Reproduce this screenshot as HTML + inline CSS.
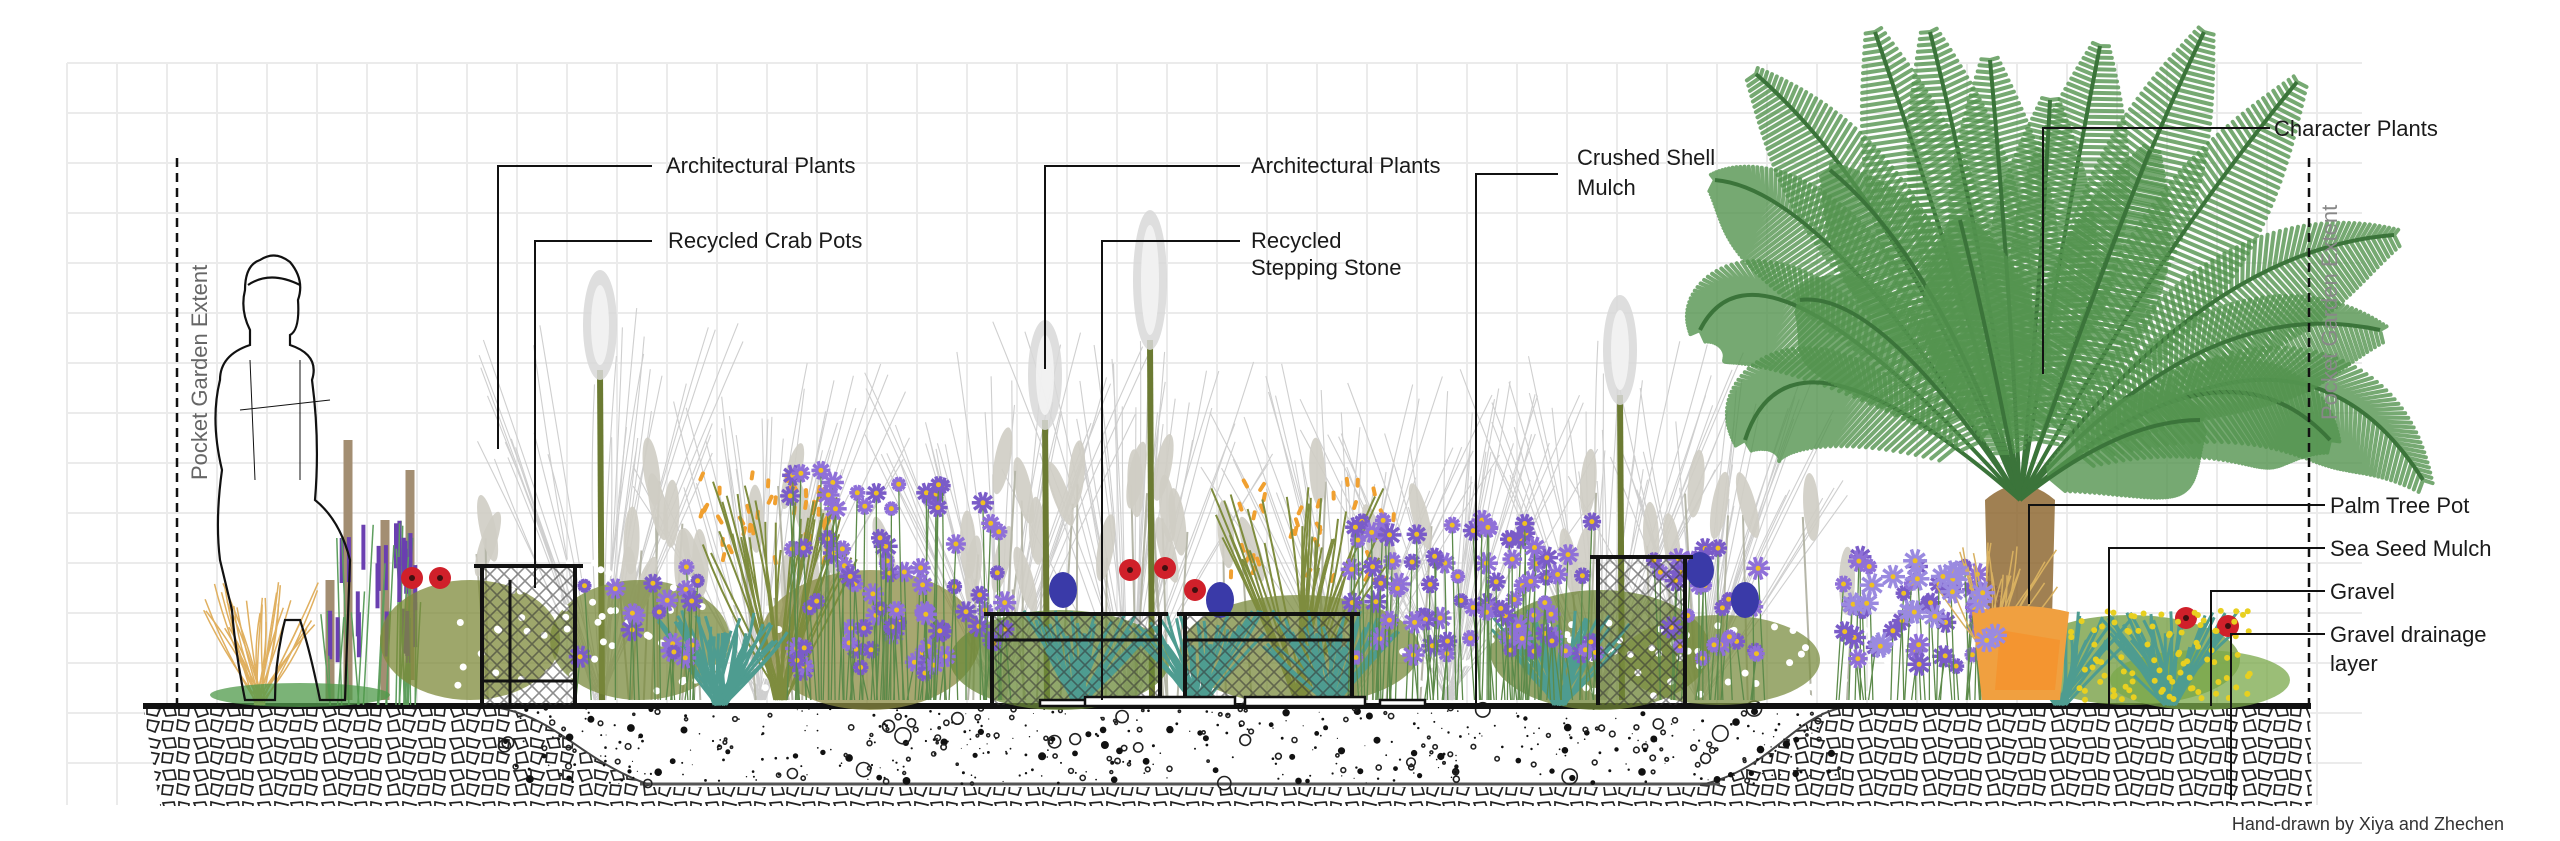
<!DOCTYPE html>
<html><head><meta charset="utf-8">
<style>
html,body{margin:0;padding:0;background:#fff;}
body{width:2560px;height:841px;overflow:hidden;position:relative;font-family:"Liberation Sans Narrow","Liberation Sans",sans-serif;}
svg{position:absolute;left:0;top:0;}
.lbl{font-family:"Liberation Sans Narrow","Liberation Sans",sans-serif;font-size:22px;fill:#1a1a1a;}
</style></head>
<body>
<svg id="s" width="2560" height="841" viewBox="0 0 2560 841" xmlns="http://www.w3.org/2000/svg">
<defs>
<pattern id="grav" width="64" height="32" patternUnits="userSpaceOnUse">
<rect width="64" height="32" fill="#fff"/>
<path d="M2 3 l11 -1 l3 8 l-10 3 z M19 2 l13 3 l-3 7 l-10 -2 z M35 3 l11 -1 l2 9 l-10 1 z M51 2 l10 2 l-1 8 l-9 -1 z M4 18 l9 -2 l3 10 l-11 1 z M20 16 l11 2 l-4 10 l-8 -3 z M35 17 l10 1 l-2 9 l-9 -1 z M50 16 l11 3 l-3 8 l-9 -2 z" fill="none" stroke="#222" stroke-width="1.7"/>
</pattern>
<pattern id="lat" width="14" height="14" patternUnits="userSpaceOnUse">
<path d="M0 0 L14 14 M14 0 L0 14" stroke="#333" stroke-width="1.6" opacity="0.7"/>
</pattern>
</defs>
<g id="grid" stroke="#ebebeb" stroke-width="2"></g>
<g id="soil"></g>
<g id="plants"></g>
<g id="over"></g>
<g id="lines" stroke="#111" stroke-width="2" fill="none"></g>
<g id="labels">
<text class="lbl" x="666" y="173">Architectural Plants</text>
<text class="lbl" x="668" y="248">Recycled Crab Pots</text>
<text class="lbl" x="1251" y="173">Architectural Plants</text>
<text class="lbl" x="1251" y="248">Recycled</text>
<text class="lbl" x="1251" y="275">Stepping Stone</text>
<text class="lbl" x="1577" y="165">Crushed Shell</text>
<text class="lbl" x="1577" y="195">Mulch</text>
<text class="lbl" x="2274" y="136">Character Plants</text>
<text class="lbl" x="2330" y="513">Palm Tree Pot</text>
<text class="lbl" x="2330" y="556">Sea Seed Mulch</text>
<text class="lbl" x="2330" y="599">Gravel</text>
<text class="lbl" x="2330" y="642">Gravel drainage</text>
<text class="lbl" x="2330" y="671">layer</text>
<text x="2504" y="830" text-anchor="end" style="font-family:'Liberation Sans Narrow','Liberation Sans',sans-serif;font-size:18px;fill:#333">Hand-drawn by Xiya and Zhechen</text>
<text transform="translate(207,480) rotate(-90)" style="font-family:'Liberation Sans',sans-serif;font-size:22px;fill:#666">Pocket Garden Extent</text>
<text transform="translate(2337,420) rotate(-90)" style="font-family:'Liberation Sans',sans-serif;font-size:22px;fill:#888">Pocket Garden Extent</text>
</g>
</svg>
<script>
(function(){
var seed=12345;function r(){seed=(seed*16807)%2147483647;return (seed-1)/2147483646;}
function R(a,b){return a+(b-a)*r();}
function f(v){return (+v).toFixed(1);}
function add(g,h){document.getElementById(g).insertAdjacentHTML('beforeend',h);}
var h='';
for(var x=67;x<=2362;x+=50)h+='<line x1="'+x+'" y1="63" x2="'+x+'" y2="805"/>';
for(var y=63;y<=805;y+=50)h+='<line x1="67" y1="'+y+'" x2="2362" y2="'+y+'"/>';
add('grid',h);
h='';
h+='<path d="M143 706 L2310 706 L2312 805 L160 805 Z" fill="#fff"/>';
h+='<path d="M143 706 L500 706 C560 720 580 760 650 785 L650 805 L160 805 Z" fill="url(#grav)"/>';
h+='<path d="M1840 706 L2310 706 L2312 805 L1700 805 L1700 785 C1770 770 1790 720 1840 706 Z" fill="url(#grav)"/>';
h+='<rect x="160" y="787" width="2150" height="19" fill="url(#grav)"/>';
h+='<line x1="640" y1="784" x2="1720" y2="784" stroke="#555" stroke-width="3"/>';
h+='<path d="M500 708 C560 720 580 760 650 785" stroke="#444" stroke-width="2" fill="none"/>';
h+='<path d="M1840 708 C1790 720 1770 770 1700 785" stroke="#444" stroke-width="2" fill="none"/>';
for(var i=0;i<550;i++){var x=R(500,1840),y=R(708,784);var s=r()<0.8?R(1,3):R(4,8);
 if(r()<0.75)h+='<circle cx="'+f(x)+'" cy="'+f(y)+'" r="'+f(s/2)+'" fill="#111"/>';
 else h+='<circle cx="'+f(x)+'" cy="'+f(y)+'" r="'+f(s)+'" fill="none" stroke="#222" stroke-width="1.6"/>';}
h+='<rect x="143" y="703" width="2168" height="6" fill="#111"/>';
add('soil',h);
h='';
function grass(x,base,top,col,n,spread,w){var s='';for(var i=0;i<n;i++){var tx=x+R(-spread,spread),ty=top+R(0,(base-top)*0.4);
 s+='<path d="M'+f(x+R(-6,6))+' '+base+' Q'+f((x+tx)/2+R(-10,10))+' '+f((base+ty)/2)+' '+f(tx)+' '+f(ty)+'" stroke="'+col+'" stroke-width="'+w+'" fill="none"/>';}return s;}
function plume(x,y,len,w,col){return '<ellipse cx="'+x+'" cy="'+(y+len/2)+'" rx="'+w+'" ry="'+len/2+'" fill="'+col+'" opacity="0.85"/>';}
var fg=[[600,700,300],[1000,700,330],[1130,700,320],[1350,700,360],[1600,700,340],[1700,700,380],[760,700,360],[1450,700,380]];
fg.forEach(function(g){h+=grass(g[0],g[1],g[2],'#cfcfcf',35,150,1.1);});
for(var i=0;i<55;i++){var x=R(450,1850);if(x>1480&&x<1560)continue;var y=R(430,560);h+='<path d="M'+f(x)+' 700 L'+f(x+R(-15,15))+' '+f(y+40)+'" stroke="#b5b6a8" stroke-width="2"/>'+'<ellipse transform="rotate('+f(R(-20,20))+' '+f(x)+' '+f(y+30)+')" cx="'+f(x)+'" cy="'+f(y+30)+'" rx="8" ry="34" fill="#cfcdc4" opacity="0.9"/>';}
[[600,270,110],[1150,210,140],[1045,320,110],[1620,295,110]].forEach(function(p){
 h+='<line x1="'+p[0]+'" y1="'+(p[1]+p[2]-10)+'" x2="'+(p[0]+2)+'" y2="700" stroke="#6b7a32" stroke-width="6"/>';
 h+=plume(p[0],p[1],p[2],17,'#d8d8d8');h+=plume(p[0],p[1]+15,p[2]-30,9,'#f4f4f4');});
[[348,440,700],[410,470,680],[385,520,700],[330,580,700]].forEach(function(s){h+='<line x1="'+s[0]+'" y1="'+s[1]+'" x2="'+s[0]+'" y2="'+s[2]+'" stroke="#a38e72" stroke-width="9"/>';});
h+=grass(260,705,580,'#e0b060',30,60,1.5);
for(var i=0;i<25;i++){var x=R(330,420),y=R(520,620);h+='<line x1="'+f(x)+'" y1="705" x2="'+f(x+R(-10,10))+'" y2="'+f(y)+'" stroke="#5e9e5e" stroke-width="1.5"/><line x1="'+f(x)+'" y1="'+f(y)+'" x2="'+f(x)+'" y2="'+f(y+45)+'" stroke="#6a3fb0" stroke-width="4"/>';}
var masses=[[470,640,90,60,'#7d8a3a'],[640,640,90,60,'#7a8a3c'],[870,640,110,70,'#8a8a40'],[1060,660,110,50,'#6c8a3a'],[1300,650,120,55,'#7a8a3c'],[1600,650,110,60,'#6f8437'],[1720,660,100,45,'#7b8d42'],[2130,660,110,45,'#6f9a3a'],[2200,680,90,30,'#7aa84a'],[300,695,90,12,'#4f9a4a']];
masses.forEach(function(m){h+='<ellipse cx="'+m[0]+'" cy="'+m[1]+'" rx="'+m[2]+'" ry="'+m[3]+'" fill="'+m[4]+'" opacity="0.75"/>';});
for(var i=0;i<140;i++){var x=R(440,780),y=R(560,700);if(r()<0.5){x=R(1400,1900);y=R(620,700);}h+='<circle cx="'+f(x)+'" cy="'+f(y)+'" r="3.5" fill="#fff"/>';}
for(var i=0;i<80;i++){var x,y;if(r()<0.5){x=R(700,830);y=R(470,560);}else{x=R(1230,1400);y=R(475,580);}h+='<path d="M'+f(x)+' '+f(y)+' l'+f(R(-4,4))+' 6" stroke="#f0a030" stroke-width="4" stroke-linecap="round"/>';}
h+=grass(780,700,470,'#7e8c3e',35,80,2);
h+=grass(1300,700,480,'#7e8c3e',35,90,2);
[[720,705],[1080,705],[1200,705],[1330,705],[1560,705],[2060,705],[2170,705]].forEach(function(t){h+=grass(t[0],t[1],610,'#4e9c90',35,70,3);});
function aster(x,y,rad,col){var s='';for(var k=0;k<10;k++){var a=k*Math.PI/5;s+='<line x1="'+f(x)+'" y1="'+f(y)+'" x2="'+f(x+Math.cos(a)*rad)+'" y2="'+f(y+Math.sin(a)*rad)+'" stroke="'+col+'" stroke-width="3.5"/>';}return s+'<circle cx="'+f(x)+'" cy="'+f(y)+'" r="2.5" fill="#f0c020"/>';}
var zones=[[790,1010,470,680,80],[1350,1600,520,660,80],[1650,1760,540,660,25],[1840,2000,555,670,40],[570,700,560,660,18]];
zones.forEach(function(z){for(var i=0;i<z[4];i++){var x=R(z[0],z[1]),y=R(z[2],z[3]);h+='<line x1="'+f(x)+'" y1="'+f(y)+'" x2="'+f(x+R(-8,8))+'" y2="700" stroke="#5c8a4a" stroke-width="1.3"/>';h+=aster(x,y,R(7,12),r()<0.5?'#7a5cc8':'#8f70d8');}});
[[1063,590],[1220,600],[1700,570],[1745,600]].forEach(function(b){h+='<ellipse cx="'+b[0]+'" cy="'+b[1]+'" rx="14" ry="18" fill="#3a3aa8"/>';});
[[412,578],[440,578],[1130,570],[1165,568],[1195,590],[2186,618],[2228,626]].forEach(function(p){h+='<circle cx="'+p[0]+'" cy="'+p[1]+'" r="11" fill="#d0202a"/><circle cx="'+p[0]+'" cy="'+p[1]+'" r="3" fill="#401010"/>';});
for(var i=0;i<90;i++){var x=R(2070,2250),y=R(610,700);h+='<circle cx="'+f(x)+'" cy="'+f(y)+'" r="3" fill="#e8d020"/>';}
h+='<path d="M1990 700 L1985 500 Q2020 470 2055 500 L2050 700 Z" fill="#8f6a34" opacity="0.85"/>';
h+=grass(1990,660,540,'#d8b060',25,70,1.5);
var bx=2020,by=500;
var fr=[[1875,32,1950,250],[1930,32,1985,250],[2100,46,2060,250],[2204,32,2110,230],[2297,82,2150,260],[1756,74,1900,200],[1715,180,1830,190],[1700,330,1760,210],[1745,440,1790,300],[2394,235,2200,250],[2423,480,2290,270],[2330,440,2220,320],[2380,330,2200,290],[2050,100,2040,300],[1830,170,1940,260],[2150,150,2090,300],[1990,60,2010,280],[1800,300,1880,290],[1960,220,1990,340],[2200,420,2120,420]];
fr.forEach(function(q){var tx=q[0],ty=q[1],cx=q[2],cy=q[3];var s='';
 for(var i=0;i<=60;i++){var t=0.15+0.85*i/60;var mt=1-t;
  var px=mt*mt*bx+2*mt*t*cx+t*t*tx,py=mt*mt*by+2*mt*t*cy+t*t*ty;
  var dx=2*mt*(cx-bx)+2*t*(tx-cx),dy=2*mt*(cy-by)+2*t*(ty-cy);var L=Math.sqrt(dx*dx+dy*dy);dx/=L;dy/=L;
  var nx=-dy,ny=dx;var len=(55*Math.sin(Math.PI*Math.min(1,(t-0.1)*1.1))+8);
  for(var sg=-1;sg<=1;sg+=2){var ex=px+(dx*0.5+nx*sg*0.85)*len,ey=py+(dy*0.5+ny*sg*0.85)*len+len*0.35;
   s+='M'+f(px)+' '+f(py)+'L'+f(ex)+' '+f(ey);}
 }
 h+='<path d="'+s+'" stroke="#54944f" stroke-width="4" stroke-linecap="round" opacity="0.8" fill="none"/>';
 h+='<path d="M'+bx+' '+by+' Q'+cx+' '+cy+' '+tx+' '+ty+'" stroke="#3b743a" stroke-width="4" fill="none"/>';});
h+='<path d="M1972 612 Q2020 600 2069 612 L2060 700 L1982 700 Z" fill="#f0a040"/><path d="M2000 630 L2060 640 L2055 690 L1995 690 Z" fill="#f5902a" opacity="0.7"/>';
for(var i=0;i<20;i++){var x=R(1850,2000),y=R(560,650);h+=aster(x,y,12,'#9a8ae0');}
h+='<g fill="none" stroke="#111" stroke-width="2.2">';
h+='<path d="M260 260 Q275 250 290 262 Q305 280 298 300 Q300 330 290 335 L290 345 Q320 355 312 380 Q320 440 315 500 Q340 520 350 560 L345 700 L320 700 Q310 650 300 620 L285 620 Q275 660 275 700 L245 700 Q235 650 232 610 L220 560 Q215 520 222 470 Q210 420 220 380 Q220 355 250 345 L250 330 Q240 310 245 290 Q245 265 260 260 Z"/>';
h+='<path d="M248 285 Q270 270 300 285" /><path d="M240 410 L330 400" stroke-width="1"/><path d="M250 360 L255 480 M300 360 L300 480" stroke-width="1"/>';
h+='</g>';
add('plants',h);
h='';
function pot(x1,y1,x2,y2){return '<rect x="'+x1+'" y="'+y1+'" width="'+(x2-x1)+'" height="'+(y2-y1)+'" fill="url(#lat)" opacity="0.8"/><g stroke="#111" stroke-width="4" fill="none"><line x1="'+(x1-8)+'" y1="'+y1+'" x2="'+(x2+8)+'" y2="'+y1+'"/><line x1="'+x1+'" y1="'+y1+'" x2="'+x1+'" y2="'+y2+'"/><line x1="'+x2+'" y1="'+y1+'" x2="'+x2+'" y2="'+y2+'"/></g>';}
h+=pot(482,566,575,705)+'<line x1="482" y1="681" x2="575" y2="681" stroke="#111" stroke-width="3"/><line x1="510" y1="580" x2="510" y2="705" stroke="#111" stroke-width="3"/>';
h+=pot(992,614,1160,705)+'<line x1="992" y1="640" x2="1160" y2="640" stroke="#111" stroke-width="3"/>';
h+=pot(1185,614,1352,705)+'<line x1="1185" y1="640" x2="1352" y2="640" stroke="#111" stroke-width="3"/>';
h+=pot(1598,557,1685,705);
h+='<g fill="#fff" stroke="#111" stroke-width="2.5"><rect x="1040" y="700" width="70" height="6"/><rect x="1085" y="697" width="150" height="9"/><rect x="1245" y="697" width="120" height="9"/><rect x="1380" y="700" width="45" height="6"/></g>';
add('over',h);
h='';
h+='<path d="M652 166 H498 V449"/><path d="M652 241 H535 V588"/>';
h+='<path d="M1240 166 H1045 V369"/><path d="M1240 241 H1102 V700"/>';
h+='<path d="M1558 174 H1476 V706"/><path d="M2270 128 H2043 V374"/>';
h+='<path d="M2325 505 H2029 V604"/><path d="M2325 548 H2109 V706"/><path d="M2325 591 H2211 V706"/><path d="M2325 634 H2231 V800"/>';
h+='<path d="M177 158 V706" stroke-dasharray="9 6" stroke-width="2.5"/><path d="M2309 158 V706" stroke-dasharray="9 6" stroke-width="2.5"/>';
add('lines',h);
})();
</script>
</body></html>
